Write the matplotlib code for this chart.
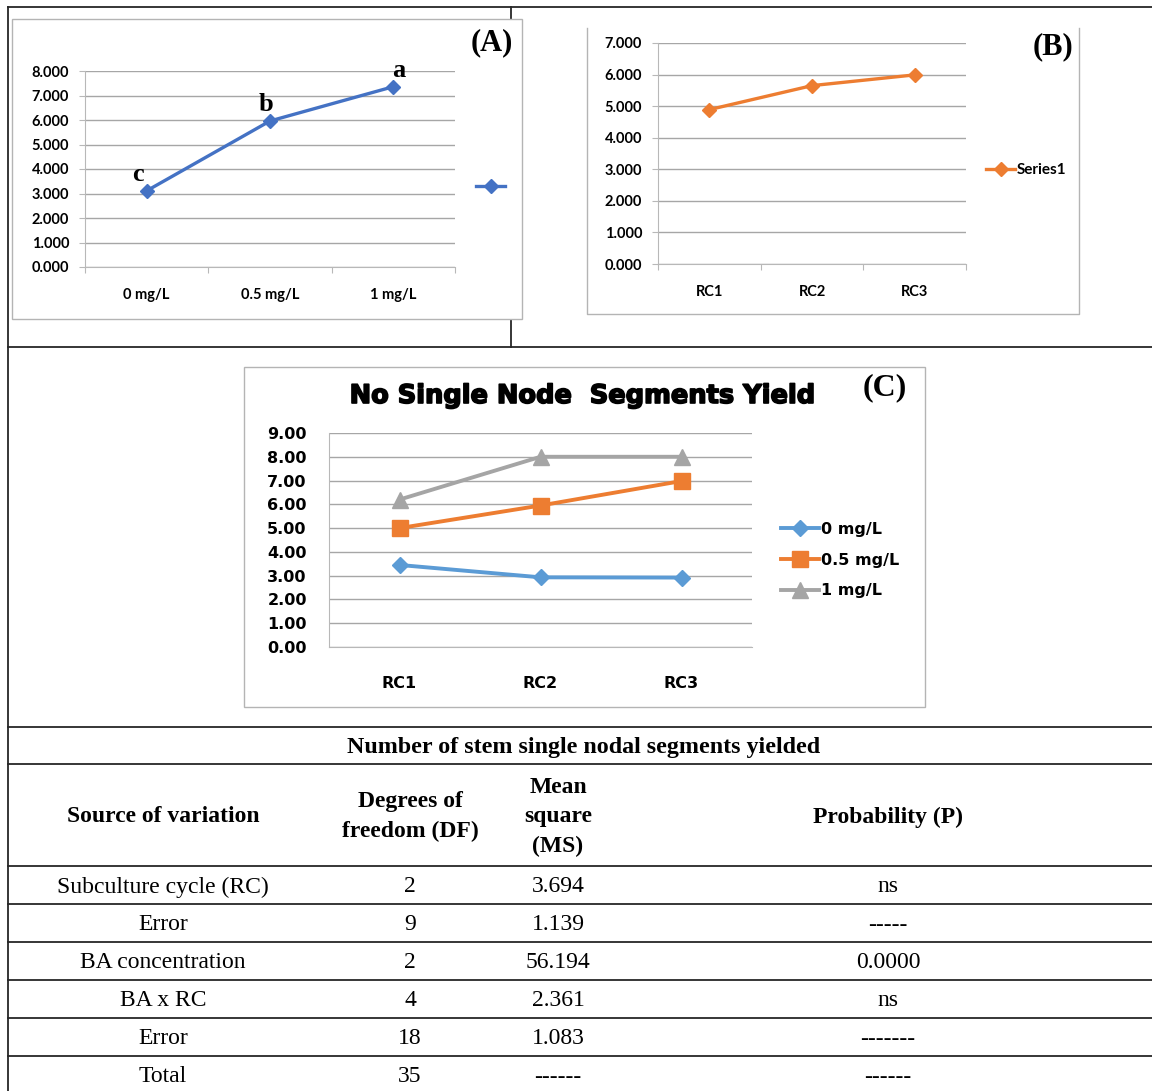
import matplotlib.pyplot as plt
from matplotlib.patches import Rectangle
from matplotlib.ticker import FormatStrFormatter
import matplotlib.patheffects as pe
import numpy as np

W, H = 1152, 1091

# (A) mean yield per BA concentration
conc_labels = ['0 mg/L', '0.5 mg/L', '1 mg/L']
conc_means = [3.11, 5.96, 7.36]
conc_letters = ['c', 'b', 'a']

# (B) mean yield per subculture cycle
rc_labels = ['RC1', 'RC2', 'RC3']
rc_means = [4.89, 5.65, 5.99]

# (C) yield per cycle for each concentration
yield_0 = [3.45, 2.93, 2.92]
yield_05 = [5.0, 5.95, 6.98]
yield_1 = [6.2, 8.0, 8.0]

# ANOVA table
table_title = 'Number of stem single nodal segments yielded'
table_head = ['Source of variation', 'Degrees of\nfreedom (DF)', 'Mean\nsquare\n(MS)', 'Probability (P)']
anova_source = ['Subculture cycle (RC)', 'Error', 'BA concentration', 'BA x RC', 'Error', 'Total']
anova_df = ['2', '9', '2', '4', '18', '35']
anova_ms = ['3.694', '1.139', '56.194', '2.361', '1.083', '------']
anova_p = ['ns', '-----', '0.0000', 'ns', '-------', '------']

SERIF = 'Liberation Serif'


def box(x0, y0, x1, y1):
    return [x0 / W, 1 - y1 / H, (x1 - x0) / W, (y1 - y0) / H]


def style(ax, labels, ymax, step, fmt, font, fs, xpad, ypad, ticks=True):
    ax.set_xlim(0.5, 3.5)
    ax.set_ylim(0, ymax)
    ax.set_yticks(np.arange(0, ymax + step / 2, step))
    ax.yaxis.set_major_formatter(FormatStrFormatter(fmt))
    ax.set_xticks([0.5, 1.5, 2.5, 3.5])
    ax.set_xticklabels([])
    ax.set_xticks([1, 2, 3], minor=True)
    ax.set_xticklabels(labels, minor=True)
    ax.grid(axis='y', color='#a6a6a6', lw=1)
    ax.set_axisbelow(True)
    ax.patch.set_alpha(0)
    for s in ['top', 'right']:
        ax.spines[s].set_visible(False)
    for s in ['left', 'bottom']:
        ax.spines[s].set_color('#b8b8b8')
    tl = 4.5 if ticks else 0
    ax.tick_params(axis='y', length=tl, color='#b8b8b8', pad=ypad)
    ax.tick_params(axis='x', which='major', length=tl, color='#b8b8b8')
    ax.tick_params(axis='x', which='minor', length=0, pad=xpad)
    for t in ax.get_yticklabels() + ax.get_xticklabels(minor=True):
        t.set_fontfamily(font)
        t.set_fontweight('bold')
        t.set_fontsize(fs)


fig = plt.figure(figsize=(W / 100, H / 100), dpi=100)
bg = fig.add_axes([0, 0, 1, 1])
bg.set_xlim(0, W)
bg.set_ylim(H, 0)
bg.axis('off')

# outer frame and table rules
rule = dict(color='#262626', lw=1.3)
bg.plot([8, W], [7, 7], **rule)
bg.plot([8, 8], [7, H], **rule)
bg.plot([511, 511], [7, 347], **rule)
for y in [347, 727, 764, 866, 904, 942, 980, 1018, 1056]:
    bg.plot([8, W], [y, y], **rule)

# chart frames (drawn over the frame rules)
bg.add_patch(Rectangle((12, 19), 510, 300, fc='white', ec='#b4b4b4', lw=1, zorder=3))
bg.add_patch(Rectangle((587, 28), 492, 286, fc='white', ec='none', zorder=3))
bg.plot([587, 587, 1079, 1079], [28, 314, 314, 28], color='#b4b4b4', lw=1, zorder=3)
bg.add_patch(Rectangle((244, 367), 681, 340, fc='white', ec='#b4b4b4', lw=1, zorder=3))

# table text
bg.text(584, 747, table_title, ha='center', va='center', family=SERIF,
        weight='bold', fontsize=17.3)
col_x = [163, 410, 558, 888]
for x, h in zip(col_x, table_head):
    bg.text(x, 817, h, ha='center', va='center', family=SERIF, weight='bold',
            fontsize=17, linespacing=1.55)
row_y = [887, 925, 963, 1001, 1039, 1077]
for i, y in enumerate(row_y):
    for x, col in zip(col_x, [anova_source, anova_df, anova_ms, anova_p]):
        bg.text(x, y, col[i], ha='center', va='center', family=SERIF, fontsize=17)

x = np.arange(1, 4)

# (A)
axA = fig.add_axes(box(85, 71, 455, 267))
axA.plot(x, conc_means, color='#4472c4', lw=2.4, marker='D', ms=7, label=' ')
style(axA, conc_labels, 8, 1, '%.3f', 'Lato', 10.5, 15, 7)
for xi, yi, s, dx in zip(x, conc_means, conc_letters, [-6, -3, 4]):
    axA.annotate(s, (xi, yi), xytext=(dx, 12), textcoords='offset points',
                 ha='center', va='center', family=SERIF, weight='bold', fontsize=19)
axA.legend(loc='center left', bbox_to_anchor=(476 / W, 1 - 187 / H),
           bbox_transform=fig.transFigure, frameon=False, borderpad=0,
           borderaxespad=0, handlelength=2.1, handletextpad=0.2)
bg.text(492, 43, '(A)', ha='center', va='center', family=SERIF, weight='bold',
        fontsize=22, zorder=4)

# (B)
axB = fig.add_axes(box(658, 43, 966, 264))
axB.plot(x, rc_means, color='#ed7d31', lw=2.4, marker='D', ms=7.5, label='Series1')
style(axB, rc_labels, 7, 1, '%.3f', 'Lato', 10.5, 15, 7)
axB.legend(loc='center left', bbox_to_anchor=(986 / W, 1 - 170 / H),
           bbox_transform=fig.transFigure, frameon=False, borderpad=0,
           borderaxespad=0, handlelength=1.9, handletextpad=0.1,
           prop=dict(family='Lato', weight='bold', size=11))
bg.text(1053, 47, '(B)', ha='center', va='center', family=SERIF, weight='bold',
        fontsize=22, zorder=4)

# (C)
axC = fig.add_axes(box(329, 433, 752, 647))
axC.plot(x, yield_0, color='#5b9bd5', lw=2.8, marker='D', ms=8.5, label='0 mg/L')
axC.plot(x, yield_05, color='#ed7d31', lw=2.8, marker='s', ms=11.5, label='0.5 mg/L')
axC.plot(x, yield_1, color='#a5a5a5', lw=2.8, marker='^', ms=12, label='1 mg/L')
style(axC, rc_labels, 9, 1, '%.2f', 'DejaVu Sans', 11.5, 21, 16, ticks=False)
axC.legend(loc='center left', bbox_to_anchor=(781 / W, 1 - 560 / H),
           bbox_transform=fig.transFigure, frameon=False, borderpad=0,
           borderaxespad=0, handlelength=2.4, handletextpad=0.1, labelspacing=1.0,
           prop=dict(family='DejaVu Sans', weight='bold', size=11.5))
bg.text(583, 396, 'No Single Node  Segments Yield', ha='center', va='center',
        family='DejaVu Sans', weight='bold', fontsize=18.5, zorder=4,
        path_effects=[pe.withStroke(linewidth=1.2, foreground='black')])
bg.text(885, 388, '(C)', ha='center', va='center', family=SERIF, weight='bold',
        fontsize=23, zorder=4)

fig.savefig('out.png', dpi=100)
